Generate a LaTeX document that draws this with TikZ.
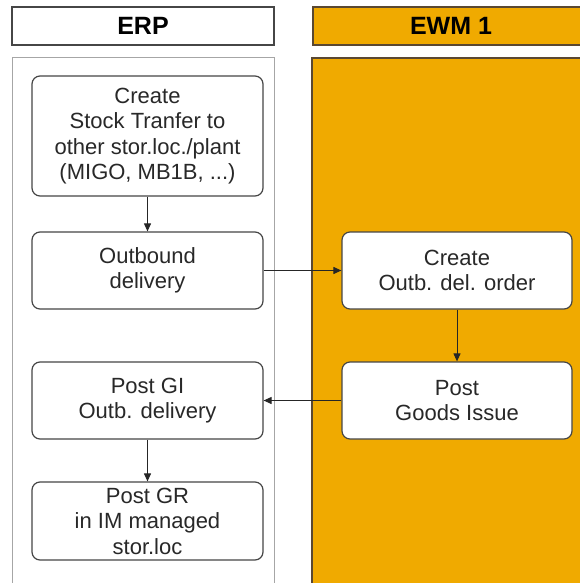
\documentclass[tikz,border=0pt]{standalone}
\usepackage{fontspec}
\setmainfont{Liberation Sans}
\usetikzlibrary{arrows.meta}
\definecolor{ewm}{RGB}{240,170,0}
\definecolor{ewmedge}{RGB}{90,72,50}
\definecolor{txt}{RGB}{40,40,40}
\definecolor{boxedge}{RGB}{70,70,70}
\tikzset{
  hdr/.style={draw=boxedge, line width=1.6pt, inner sep=0pt, font=\fontsize{25}{27}\selectfont\bfseries, text=black},
  lane/.style={line width=1pt},
  stepbox/.style={draw=boxedge, line width=1.2pt, fill=white, rounded corners=8pt, inner sep=0pt,
    align=center, text=txt, font=\fontsize{22}{25.5}\selectfont},
  flow/.style={draw=black!85, line width=1pt, -{Triangle[length=8pt,width=7pt]}}
}
\begin{document}
\begin{tikzpicture}[x=1pt,y=-1pt]
\useasboundingbox (0,0) rectangle (579,583);
% lanes
\fill[white] (0,0) rectangle (579,583);
\draw[lane, draw=gray!70] (12,590) -- (12,58) -- (274,58) -- (274,590);
\fill[ewm] (312,58) rectangle (590,590);
\draw[lane, draw=ewmedge, line width=1.4pt] (312,590) -- (312,58) -- (590,58);
% headers
\node[hdr, fill=white, minimum width=262pt, minimum height=38pt] (herp) at (143,26) {ERP};
\node[hdr, fill=ewm, draw=ewmedge, minimum width=290pt, minimum height=38pt, anchor=west] (hewm) at (312,26) {};
\node[font=\fontsize{25}{27}\selectfont\bfseries] (hewmt) at (451,26) {EWM 1};
% boxes
\node[stepbox, minimum width=231pt, minimum height=120pt] (create) at (147.5,136) {Create\\Stock Tranfer to\\other stor.loc./plant\\(MIGO, MB1B, ...)};
\node[stepbox, minimum width=231pt, minimum height=77pt] (outb) at (147.5,270.5) {Outbound\\delivery};
\node[stepbox, minimum width=230pt, minimum height=77pt] (cod) at (457,270.5) {Create\\Outb. del. order};
\node[stepbox, minimum width=230pt, minimum height=77pt] (pgi) at (457,400.5) {Post\\Goods Issue};
\node[stepbox, minimum width=231pt, minimum height=77pt] (postgi) at (147.5,400.5) {Post GI\\Outb. delivery};
\node[stepbox, minimum width=231pt, minimum height=78pt] (postgr) at (147.5,521) {Post GR\\in IM managed\\stor.loc};
% arrows
\draw[flow] (create) -- (outb);
\draw[flow] (outb) -- (cod);
\draw[flow] (cod) -- (pgi);
\draw[flow] (pgi) -- (postgi);
\draw[flow] (postgi) -- (postgr);
\end{tikzpicture}
\end{document}
